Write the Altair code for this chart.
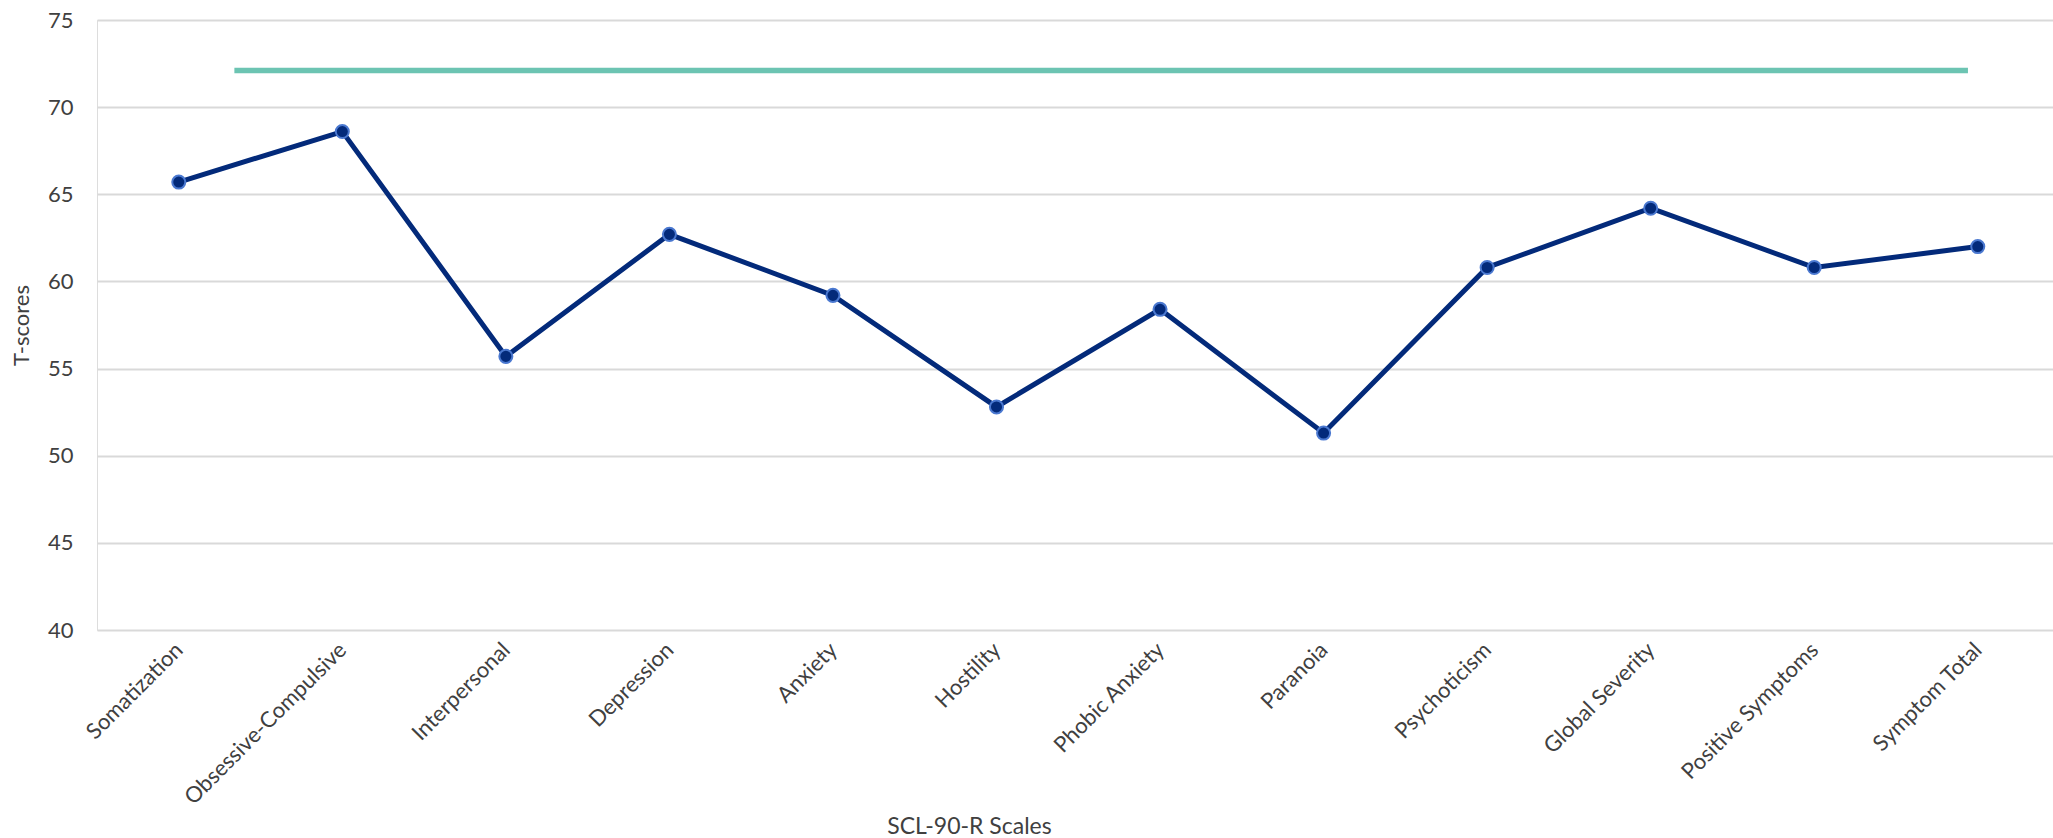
import altair as alt
import pandas as pd

# SCL-90-R scale profile (T-scores)
scales = [
    "Somatization", "Obsessive-Compulsive", "Interpersonal", "Depression",
    "Anxiety", "Hostility", "Phobic Anxiety", "Paranoia", "Psychoticism",
    "Global Severity", "Positive Symptoms", "Symptom Total",
]
t_scores = [65.7, 68.6, 55.7, 62.7, 59.2, 52.8, 58.4, 51.3, 60.8, 64.2, 60.8, 62.0]

# reference band line (start/end position along the scale axis, T-score level)
ref_start = [0.34]
ref_end = [10.94]
ref_level = [72.1]

y_ticks = [40, 45, 50, 55, 60, 65, 70, 75]

df = pd.DataFrame({"idx": list(range(len(scales))), "scale": scales, "t": t_scores})
ref = pd.DataFrame({"x": ref_start, "x2": ref_end, "y": ref_level})

FONT = "Lato"
TEXT = "#404040"

label_expr = "[" + ",".join("'" + s + "'" for s in scales) + "][datum.value]"

x_scale = alt.Scale(domain=[-0.5, 11.46], nice=False, zero=False)
y_scale = alt.Scale(domain=[40, 75], nice=False, zero=False)

x_axis = alt.Axis(
    values=list(range(len(scales))),
    labelExpr=label_expr,
    labelAngle=315,
    labelAlign="right",
    labelBaseline="middle",
    labelPadding=16,
    labelFont=FONT,
    labelFontSize=22,
    labelColor=TEXT,
    labelOverlap=False,
    labelLimit=0,
    grid=False,
    ticks=False,
    domain=False,
    title="SCL-90-R Scales",
    titleFont=FONT,
    titleFontSize=23,
    titleFontWeight="normal",
    titleColor=TEXT,
    titleX=872,
    titleY=203,
    titleAlign="center",
    titleBaseline="alphabetic",
)

y_axis = alt.Axis(
    values=y_ticks,
    labelFont=FONT,
    labelFontSize=22,
    labelColor=TEXT,
    labelPadding=24,
    grid=True,
    gridColor="#d9d9d9",
    gridWidth=2,
    ticks=False,
    domain=False,
    title="T-scores",
    titleFont=FONT,
    titleFontSize=22,
    titleFontWeight="normal",
    titleColor=TEXT,
    titlePadding=14,
)

line = alt.Chart(df).mark_line(color="#032a7a", strokeWidth=5).encode(
    x=alt.X("idx:Q", scale=x_scale, axis=x_axis),
    y=alt.Y("t:Q", scale=y_scale, axis=y_axis),
)

points = alt.Chart(df).mark_point(
    filled=True, shape="circle", size=170, fill="#032a7a",
    stroke="#4a78d0", strokeWidth=2, opacity=1,
).encode(
    x=alt.X("idx:Q", scale=x_scale),
    y=alt.Y("t:Q", scale=y_scale),
)

ref_line = alt.Chart(ref).mark_rule(color="#6cc4b2", strokeWidth=5.5).encode(
    x=alt.X("x:Q", scale=x_scale),
    x2="x2:Q",
    y=alt.Y("y:Q", scale=y_scale),
)

chart = (
    alt.layer(ref_line, line, points)
    .properties(
        width=1956,
        height=610,
        padding={"left": 97, "top": 20, "right": 0, "bottom": 208},
        autosize=alt.AutoSizeParams(type="none"),
    )
    .configure_view(stroke=None)
    .configure(background="white")
)

chart.save("out.html", embed_options={"renderer": "svg", "actions": False})
